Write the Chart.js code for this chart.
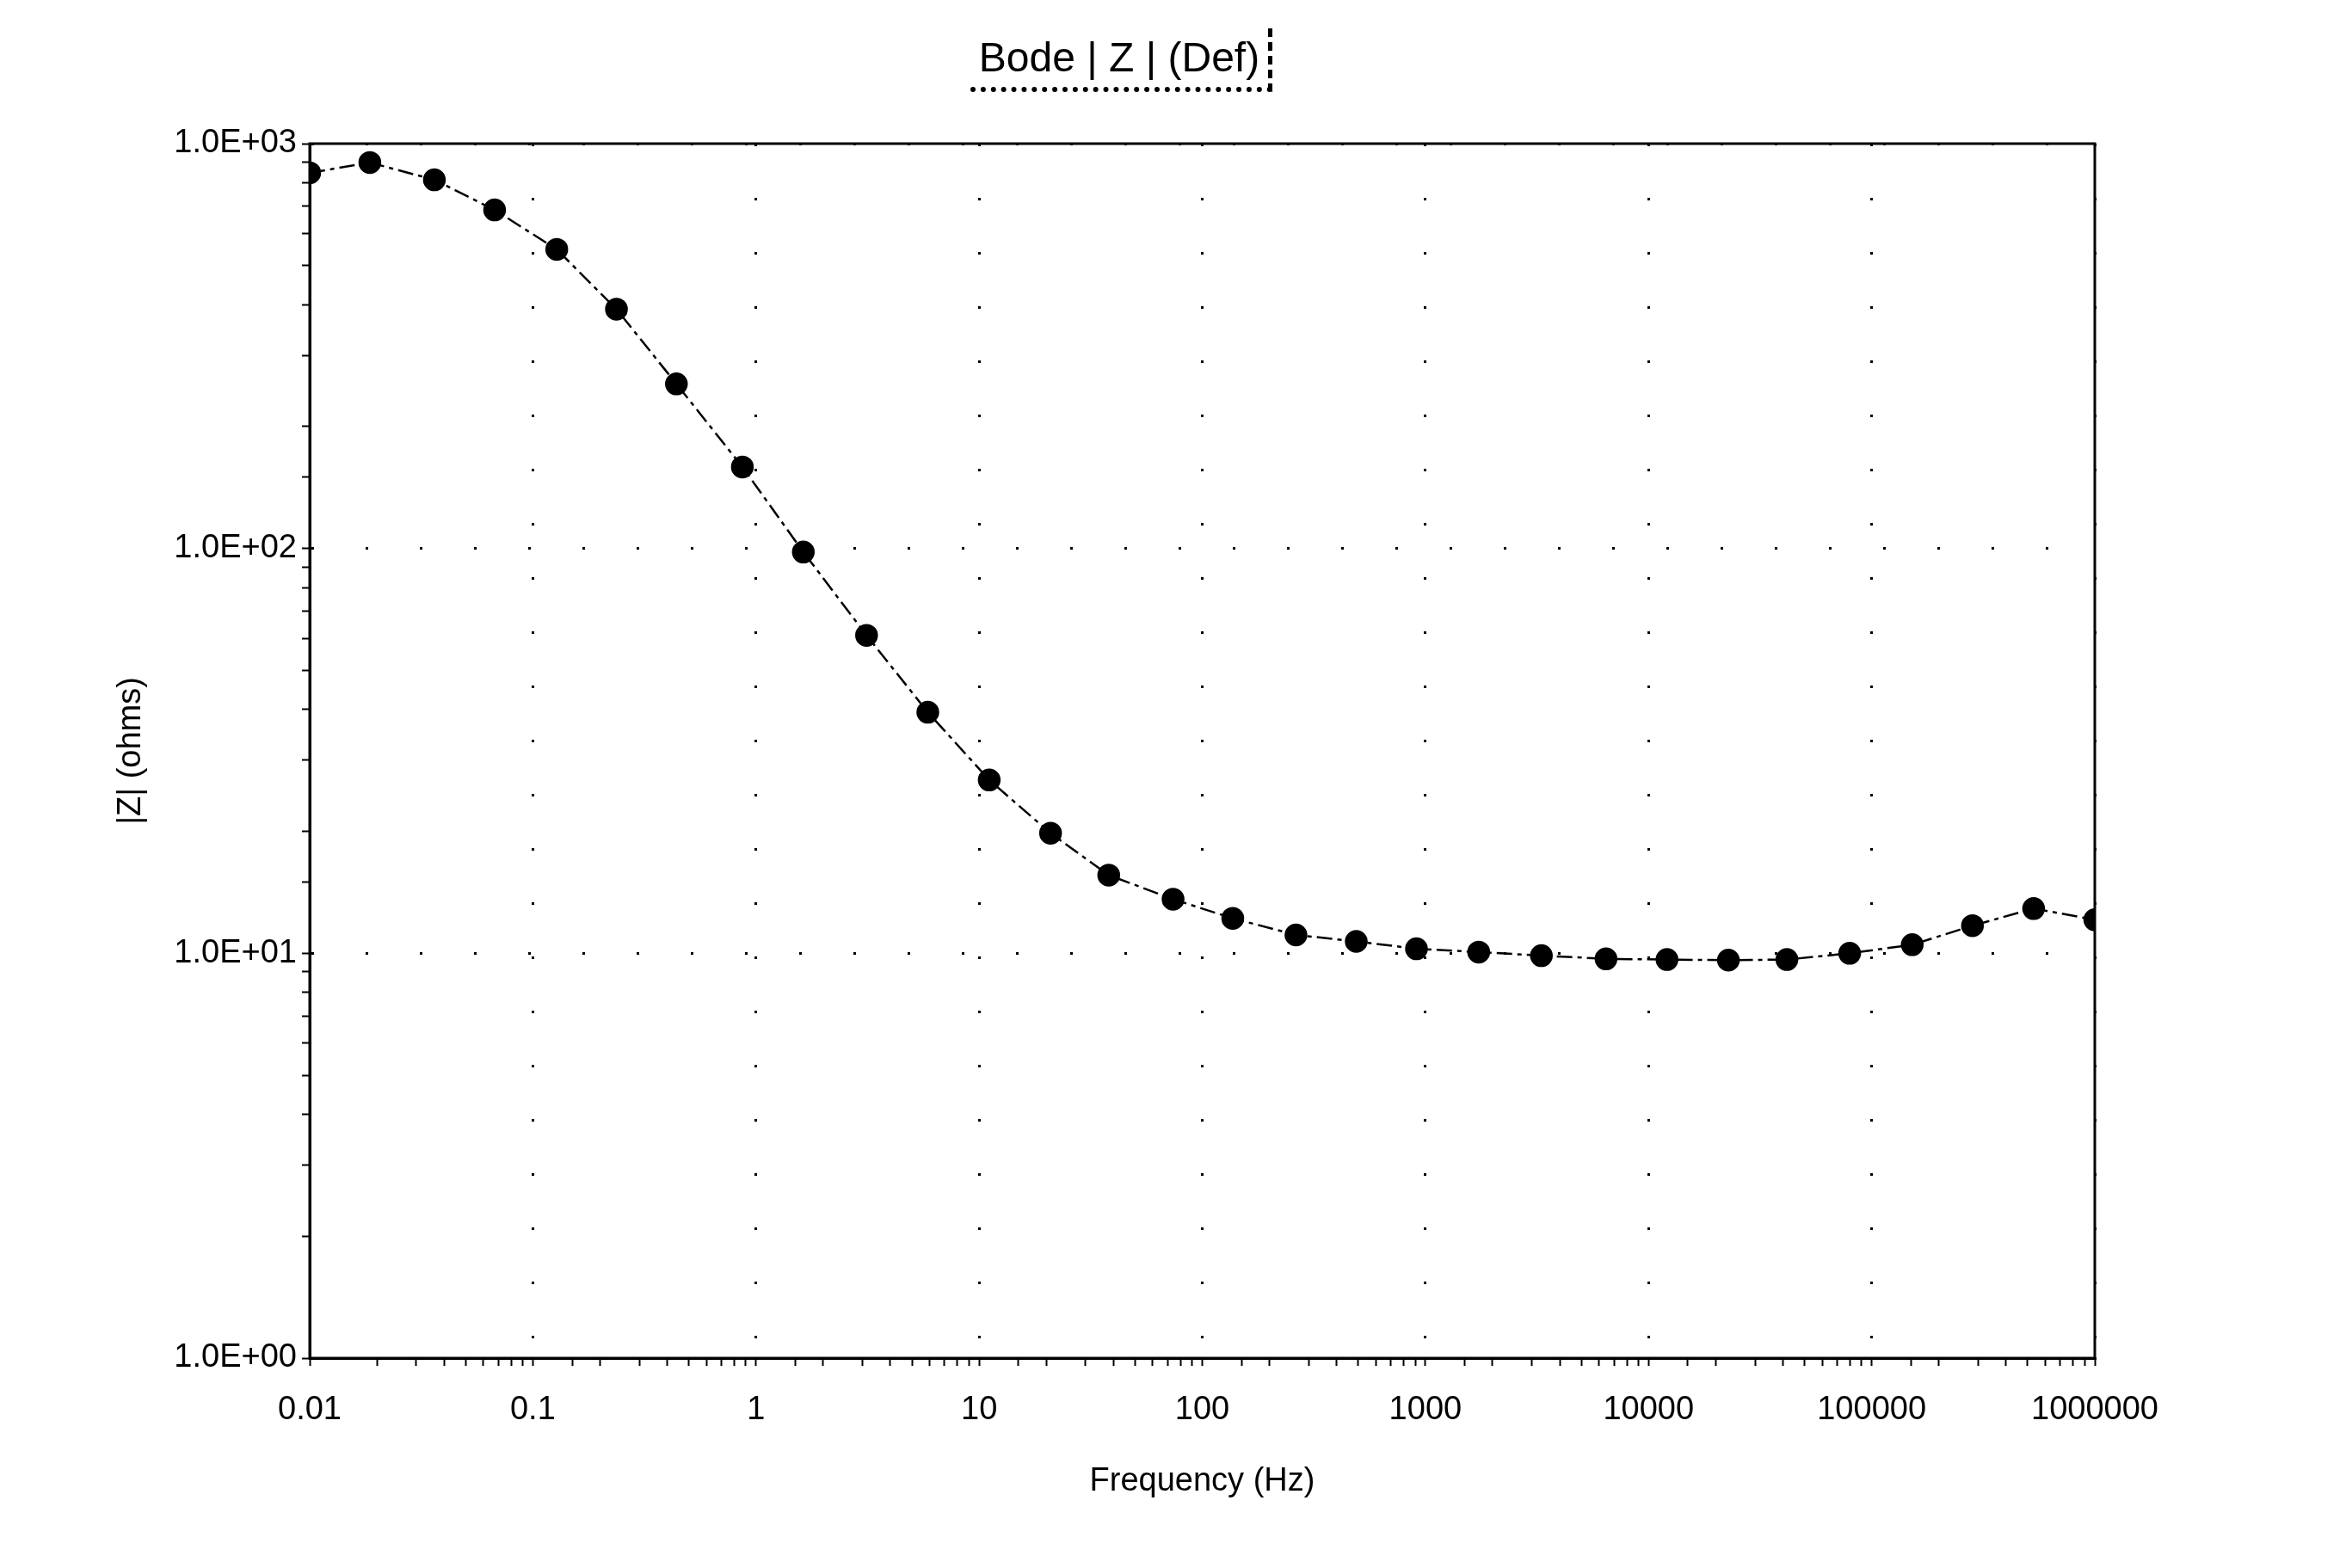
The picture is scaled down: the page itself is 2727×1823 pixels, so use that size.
<!DOCTYPE html>
<html>
<head>
<meta charset="utf-8">
<title>Bode |Z| (Def)</title>
<script src="https://cdn.jsdelivr.net/npm/chart.js@4"></script>
<style>
    body { margin: 0; background: #fff; }
    #wrap { position: relative; width: 2727px; height: 1823px; }
    #chartTitle {
        position: absolute;
        left: 1128px;
        top: 33px;
        width: 346px;
        height: 68px;
        line-height: 68px;
        text-align: center;
        font-family: "Liberation Sans", Arial, sans-serif;
        font-size: 48px;
        color: #000;
        border-bottom: 6px dotted #000;
        border-right: 5px dashed #000;
    }
</style>
</head>
<body>
<div id="wrap">
    <canvas id="bodeChart" width="2727" height="1823"></canvas>
    <div id="chartTitle">Bode | Z | (Def)</div>
</div>
<script>
// frequency (Hz) and |Z| (ohms)
var freq = [0.01, 0.0186, 0.0362, 0.0674, 0.128, 0.237, 0.44, 0.869, 1.63, 3.13,
    5.89, 11.1, 20.9, 38.1, 74, 137, 263, 490, 912, 1734,
    3311, 6450, 12100, 22800, 41700, 79700, 152000, 283000, 532000, 1000000];
var zmod = [847, 898, 814, 686, 548, 390, 255, 159, 98, 61,
    39.4, 26.8, 19.8, 15.6, 13.6, 12.2, 11.1, 10.7, 10.26, 10.07,
    9.87, 9.69, 9.65, 9.62, 9.65, 10.0, 10.5, 11.7, 12.9, 12.1];

var xTickLabels = ["0.01", "0.1", "1", "10", "100", "1000", "10000", "100000", "1000000"];
var yTickLabels = ["1.0E+00", "1.0E+01", "1.0E+02", "1.0E+03"];

var points = freq.map(function (f, i) { return { x: f, y: zmod[i] }; });

function decade(v) {
    var l = Math.log10(v);
    return Math.abs(l - Math.round(l)) < 1e-6 ? Math.round(l) : null;
}

// frame around the plot area (top and right sides)
var frame = {
    id: "frame",
    beforeDatasetsDraw: function (chart) {
        var a = chart.chartArea, ctx = chart.ctx;
        ctx.save();
        ctx.strokeStyle = "#000";
        ctx.lineWidth = 3;
        ctx.strokeRect(a.left, a.top, a.right - a.left, a.bottom - a.top);
        ctx.restore();
    }
};

var font = { family: "'Liberation Sans', Arial, sans-serif", size: 38 };

var ctx = document.getElementById("bodeChart").getContext("2d");
new Chart(ctx, {
    type: "line",
    data: {
        datasets: [
            {
                label: "|Z|",
                data: points,
                borderColor: "#000",
                backgroundColor: "#000",
                borderWidth: 2.5,
                borderDash: [18, 6, 5, 6],
                pointRadius: 12,
                pointBackgroundColor: "#000",
                pointBorderColor: "#000",
                tension: 0
            }
        ]
    },
    options: {
        responsive: false,
        animation: false,
        layout: {
            padding: { top: 167, right: 292, bottom: 0, left: 0 }
        },
        plugins: {
            legend: { display: false },
            title: { display: false },
            tooltip: { enabled: false }
        },
        scales: {
            x: {
                type: "logarithmic",
                min: 0.01,
                max: 1000000,
                afterFit: function (scale) { scale.height = 244; },
                border: { color: "#000", width: 3, dash: [3, 60] },
                grid: {
                    color: function (c) {
                        return decade(c.tick.value) !== null ? "#000" : "rgba(0,0,0,0)";
                    },
                    lineWidth: 3,
                    tickColor: "#000",
                    tickLength: 9,
                    tickWidth: 2
                },
                ticks: {
                    autoSkip: false,
                    maxRotation: 0,
                    color: "#000",
                    font: font,
                    padding: 29,
                    callback: function (v) {
                        var d = decade(v);
                        return d === null ? "" : xTickLabels[d + 2];
                    }
                },
                title: {
                    display: true,
                    text: "Frequency (Hz)",
                    color: "#000",
                    font: font,
                    padding: { top: 78, bottom: 78 }
                }
            },
            y: {
                type: "logarithmic",
                min: 1,
                max: 1000,
                afterFit: function (scale) { scale.width = 360; },
                border: { color: "#000", width: 3, dash: [3, 60] },
                grid: {
                    color: function (c) {
                        return decade(c.tick.value) !== null ? "#000" : "rgba(0,0,0,0)";
                    },
                    lineWidth: 3,
                    tickColor: "#000",
                    tickLength: 9,
                    tickWidth: 2
                },
                ticks: {
                    autoSkip: false,
                    color: "#000",
                    font: font,
                    padding: 6,
                    callback: function (v) {
                        var d = decade(v);
                        return d === null ? "" : yTickLabels[d];
                    }
                },
                title: {
                    display: true,
                    text: "|Z| (ohms)",
                    color: "#000",
                    font: font,
                    padding: { top: 130, bottom: 130 }
                }
            }
        }
    },
    plugins: [frame]
});
</script>
</body>
</html>
